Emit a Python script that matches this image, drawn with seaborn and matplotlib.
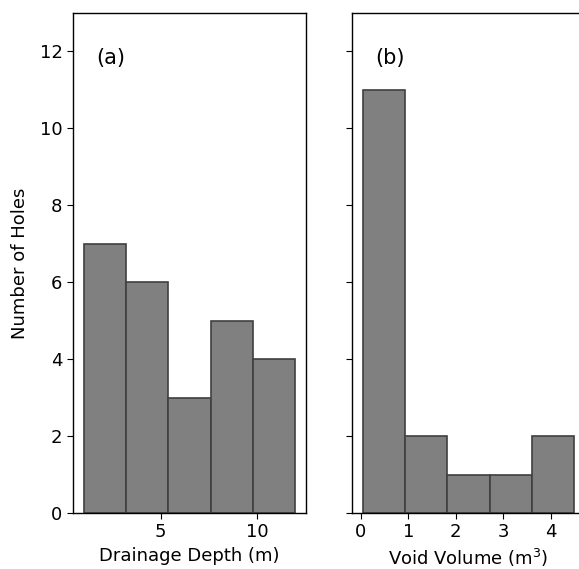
import numpy as np
import matplotlib
matplotlib.use('Agg')
import matplotlib.pyplot as plt
import seaborn as sns

# Histogram data
depth_edges = [1.0, 3.2, 5.4, 7.6, 9.8, 12.0]
depth_counts = [7, 6, 3, 5, 4]
void_edges = [0.035, 0.928, 1.821, 2.714, 3.607, 4.5]
void_counts = [11, 2, 1, 1, 2]

depth_mid = [(a + b) / 2 for a, b in zip(depth_edges[:-1], depth_edges[1:])]
void_mid = [(a + b) / 2 for a, b in zip(void_edges[:-1], void_edges[1:])]

plt.rcParams['font.family'] = ['DejaVu Sans']
plt.rcParams['font.size'] = 13

fig = plt.figure(figsize=(5.79, 5.69), dpi=100)
W, H = 579, 569
ax1 = fig.add_axes([73 / W, 56 / H, 233 / W, 500 / H])
ax2 = fig.add_axes([352 / W, 56 / H, 233 / W, 500 / H], sharey=ax1)

bar_kw = dict(stat='count', facecolor='#808080', edgecolor='#404040',
              linewidth=1.2, alpha=1)
sns.histplot(x=depth_mid, weights=depth_counts, bins=depth_edges, ax=ax1, **bar_kw)
sns.histplot(x=void_mid, weights=void_counts, bins=void_edges, ax=ax2, **bar_kw)

ax1.set_ylim(0, 13)
ax1.set_yticks([0, 2, 4, 6, 8, 10, 12])
ax1.set_xlim(0.45, 12.55)
ax1.set_xticks([5, 10])
ax2.set_xlim(-0.188, 4.723)
ax2.set_xticks([0, 1, 2, 3, 4])
ax2.tick_params(labelleft=False)

ax1.set_xlabel('Drainage Depth (m)', fontsize=13)
ax1.set_ylabel('Number of Holes', fontsize=13, labelpad=8)
ax2.set_xlabel('Void Volume (m$^3$)', fontsize=13)
ax2.set_ylabel('')

for ax in (ax1, ax2):
    ax.tick_params(labelsize=13, length=4)
    for s in ax.spines.values():
        s.set_linewidth(1.0)

ax1.text(0.1, 0.91, '(a)', transform=ax1.transAxes, fontsize=15, va='center')
ax2.text(0.1, 0.91, '(b)', transform=ax2.transAxes, fontsize=15, va='center')

fig.savefig('out.png', dpi=100)
